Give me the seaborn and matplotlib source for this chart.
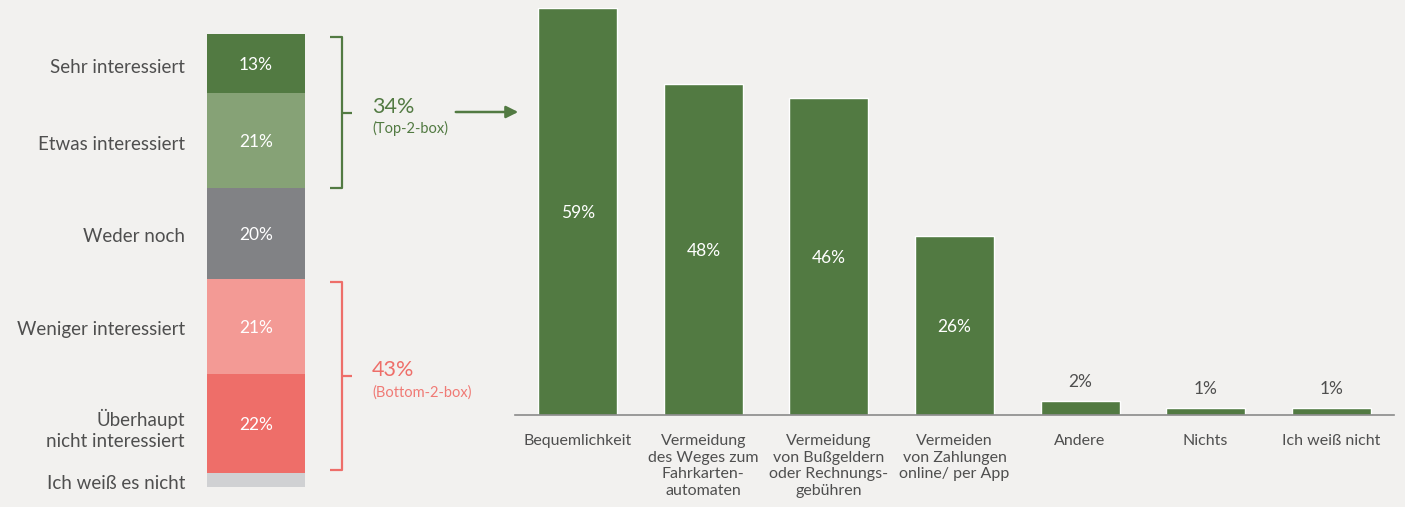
import matplotlib
matplotlib.use('Agg')
import matplotlib.pyplot as plt
import matplotlib.transforms as mtransforms
import pandas as pd
import seaborn as sns

# Seaborn settings
sns.set_theme(style="white")
plt.rcParams['font.family'] = ['Lato', 'DejaVu Sans']

# Left: interest in the offer (stacked, top to bottom)
interest_labels = ['Sehr interessiert', 'Etwas interessiert', 'Weder noch',
                   'Weniger interessiert', 'Überhaupt\nnicht interessiert',
                   'Ich weiß es nicht']
interest_values = [13, 21, 20, 21, 22, 3]
interest_shown = [True, True, True, True, True, False]

# Right: reasons
reasons = ['Bequemlichkeit',
           'Vermeidung\ndes Weges zum\nFahrkarten-\nautomaten',
           'Vermeidung\nvon Bußgeldern\noder Rechnungs-\ngebühren',
           'Vermeiden\nvon Zahlungen\nonline/ per App',
           'Andere', 'Nichts', 'Ich weiß nicht']
reason_values = [59, 48, 46, 26, 2, 1, 1]

bg = '#F2F1EF'
text_col = '#4F4F4F'
green = '#527A42'
red = '#EE6E69'
seg_colors = ['#527A42', '#86A276', '#818285', '#F39A95', '#EE6E69', '#D0D1D3']

fig = plt.figure(figsize=(14.05, 5.07), dpi=100)
fig.patch.set_facecolor(bg)
W, H = 1405, 507

# ---- left stacked bar
ax1 = fig.add_axes([207 / W, 1 - 487 / H, 98 / W, 453 / H])
ax1.set_facecolor(bg)
ax1.set_xlim(0, 1)
ax1.set_ylim(sum(interest_values), 0)
ax1.axis('off')
trans = mtransforms.blended_transform_factory(ax1.transAxes, ax1.transData)

cum = [0]
for v in interest_values:
    cum.append(cum[-1] + v)

for i, (lab, v) in enumerate(zip(interest_labels, interest_values)):
    ax1.bar(0.5, v, bottom=cum[i], width=1, color=seg_colors[i], linewidth=0)
    mid = cum[i] + v / 2
    ax1.annotate(lab, (-0.225, mid), xycoords=trans, xytext=(0, -1.5),
                 textcoords='offset points', ha='right',
                 va='center_baseline', fontsize=13.5, color=text_col,
                 linespacing=1.3)
    if interest_shown[i]:
        ax1.text(0.5, mid, f'{v}%', ha='center', va='center_baseline',
                 fontsize=12.5, color='white')


def bracket(y0, y1, color, big, small, small_color):
    kw = dict(transform=trans, clip_on=False, color=color, lw=1.6,
              solid_capstyle='butt')
    xv, xl, xr = 1.378, 1.255, 1.48
    ax1.plot([xl, xv, xv, xl], [y0, y0, y1, y1], **kw)
    ym = (y0 + y1) / 2
    ax1.plot([xv, xr], [ym, ym], **kw)
    ax1.annotate(big, (1.684, ym), xycoords=trans, xytext=(0, 5.5),
                 textcoords='offset points', ha='left', va='center_baseline',
                 fontsize=15.5, color=color)
    ax1.annotate(small, (1.684, ym), xycoords=trans, xytext=(0, -10.5),
                 textcoords='offset points', ha='left', va='center_baseline',
                 fontsize=10.5, color=small_color)
    return ym


top2 = interest_values[0] + interest_values[1]
bottom2 = interest_values[3] + interest_values[4]
bracket(cum[0] + 0.7, cum[2], green, f'{top2}%', '(Top-2-box)', green)
bracket(cum[3] + 0.8, cum[5] - 0.8, red, f'{bottom2}%', '(Bottom-2-box)',
        '#F07A75')

# arrow to the reason chart
fig.add_artist(matplotlib.patches.FancyArrowPatch(
    (453 / W, 1 - 112 / H), (521 / W, 1 - 112 / H),
    transform=fig.transFigure, arrowstyle='-|>', mutation_scale=18,
    color=green, lw=1.8))

# ---- right bar chart
ax2 = fig.add_axes([515 / W, 1 - 415 / H, 879 / W, 407 / H])
ax2.set_facecolor(bg)
df = pd.DataFrame({'reason': reasons, 'value': reason_values})
sns.barplot(data=df, x='reason', y='value', color=green, saturation=1,
            width=0.63, ax=ax2)
ax2.set_xlim(-0.5, len(reasons) - 0.5)
ax2.set_ylim(0, max(reason_values))
ax2.set_xlabel('')
ax2.set_ylabel('')
ax2.set_yticks([])
for s in ['top', 'right', 'left']:
    ax2.spines[s].set_visible(False)
ax2.spines['bottom'].set_color('#8A8A8A')
ax2.spines['bottom'].set_linewidth(1.2)
ax2.tick_params(axis='x', length=0, pad=14, labelsize=11.5, labelcolor=text_col)
for t in ax2.get_xticklabels():
    t.set_linespacing(1.22)

for i, v in enumerate(reason_values):
    if v >= 10:
        ax2.text(i, v / 2, f'{v}%', ha='center', va='center_baseline',
                 fontsize=12.5, color='white')
    else:
        ax2.text(i, v + 1.6, f'{v}%', ha='center', va='bottom', fontsize=12.5,
                 color=text_col)

plt.savefig('out.png', dpi=100, facecolor=bg)
plt.close()
